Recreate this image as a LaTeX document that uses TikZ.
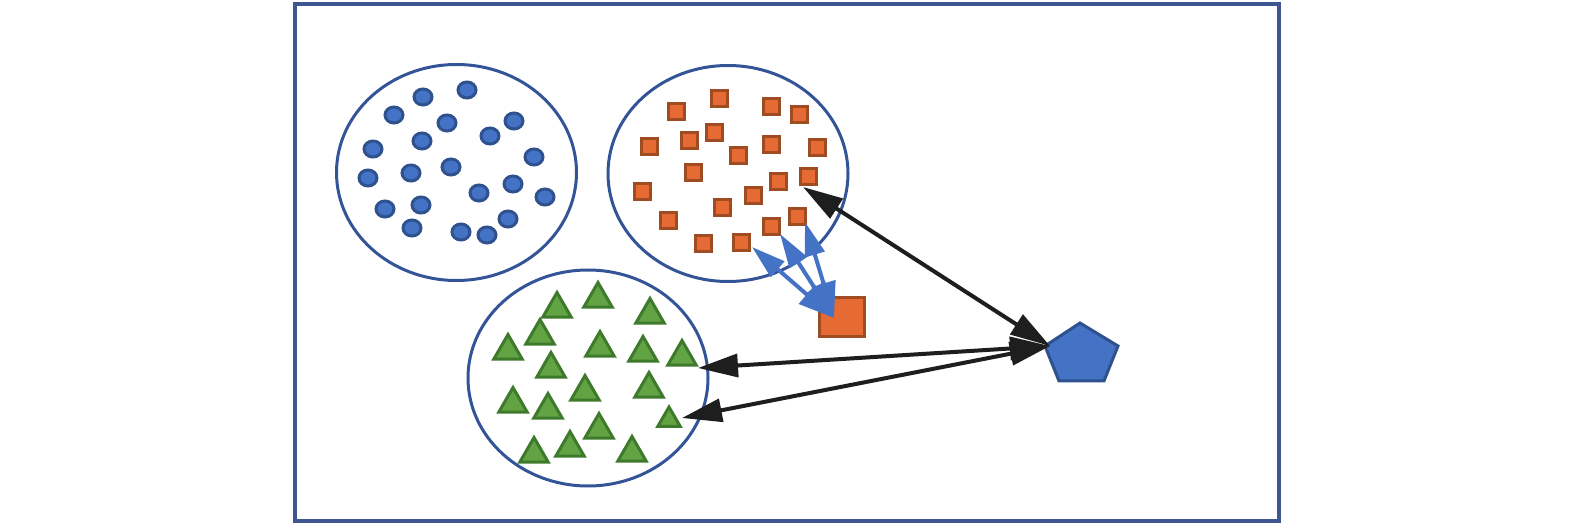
\documentclass[tikz,border=0pt]{standalone}
\usetikzlibrary{arrows.meta,shapes.geometric}
\definecolor{framec}{RGB}{63,87,145}
\definecolor{ellc}{RGB}{52,84,152}
\definecolor{dotfill}{RGB}{68,114,196}
\definecolor{dotdraw}{RGB}{47,82,143}
\definecolor{orfill}{RGB}{229,106,52}
\definecolor{ordraw}{RGB}{160,76,35}
\definecolor{grfill}{RGB}{98,163,68}
\definecolor{grdraw}{RGB}{62,122,44}
\definecolor{blk}{RGB}{30,30,30}
\definecolor{bluearr}{RGB}{68,114,196}
\tikzset{
  group/.style={draw=ellc,line width=3pt,ellipse,inner sep=0pt,minimum width=240pt,minimum height=216pt},
  dot/.style={ellipse,draw=dotdraw,fill=dotfill,line width=3pt,inner sep=0pt,minimum width=18pt,minimum height=16pt},
  sq/.style={rectangle,draw=ordraw,fill=orfill,line width=3pt,inner sep=0pt,minimum size=16pt},
  tri/.style={regular polygon,regular polygon sides=3,draw=grdraw,fill=grfill,line width=3pt,inner sep=0pt,minimum size=33pt},
  barrow/.style={draw=bluearr,line width=4pt,{Triangle[length=34pt,width=20pt]}-{Triangle[length=36pt,width=24pt]}},
  karrow/.style={draw=blk,line width=4pt,{Triangle[length=40pt,width=23pt]}-{Triangle[length=40pt,width=23pt]}}
}
\begin{document}
\begin{tikzpicture}[x=1pt,y=-1pt]
\useasboundingbox (0,0) rectangle (1575,526);
\node[draw=framec,line width=3.6pt,rectangle,inner sep=0pt,minimum width=984pt,minimum height=517pt] (frame) at (787,262.5) {};
\node[group] (gdots) at (456.5,172.5) {};
\node[group] (gsq) at (728,173.5) {};
\node[group] (gtri) at (588,378) {};
% blue dots
\foreach \x/\y [count=\i] in {423/97,467/90,394/115,447/123,514/121,490/136,422/141,373/149,534/157,451/167,368/178,411/173,513/184,479/193,545/197,385/209,421/205,412/228,461/232,487/235,508/219}
  \node[dot] (d\i) at (\x,\y) {};
% orange squares
\foreach \x/\y [count=\i] in {676/112,719/99,771/107,799/115,649/147,689/141,714/133,738/156,771/145,817/148,693/173,778/182,808/177,642/192,753/196,722/208,668/221,797/217,771/227,703/244,741/243}
  \node[sq] (s\i) at (\x,\y) {};
% green triangles
\foreach \x/\y [count=\i] in {557/309,598/299,650/315,540/336,508/351,600/348,643/353,682/357,551/369,585/392,649/389,513/404,548/410,599/430}
  \node[tri] (t\i) at (\x,\y) {};
\node[tri,minimum size=26pt] (t15) at (669,420) {};
\foreach \x/\y [count=\i from 16] in {534/454,570/448,632/453}
  \node[tri] (t\i) at (\x,\y) {};
% big square
\node[rectangle,draw=ordraw,fill=orfill,line width=3pt,inner sep=0pt,minimum width=45pt,minimum height=39pt] (big) at (842,317) {};
% pentagon
\coordinate (p1) at (1080,323);
\coordinate (p2) at (1118,346);
\coordinate (p3) at (1104,381);
\coordinate (p4) at (1059,381);
\coordinate (p5) at (1045,346);
\draw[draw=dotdraw,fill=dotfill,line width=3pt,line join=miter] (p1) -- (p2) -- (p3) -- (p4) -- (p5) -- cycle;
% arrow end coordinates
\coordinate (a1) at (752,247);
\coordinate (a2) at (780,234);
\coordinate (a3) at (805,222);
\coordinate (bigtip) at (834,318);
\coordinate (k1) at (803,187);
\coordinate (k2) at (698,368);
\coordinate (k3) at (682,418);
\coordinate (pent) at (1050,346);
\draw[barrow] (a1) -- (bigtip);
\draw[barrow] (a2) -- (bigtip);
\draw[barrow] (a3) -- (bigtip);
\draw[karrow] (k1) -- (pent);
\draw[karrow] (k2) -- (pent);
\draw[karrow] (k3) -- (pent);
\end{tikzpicture}
\end{document}
